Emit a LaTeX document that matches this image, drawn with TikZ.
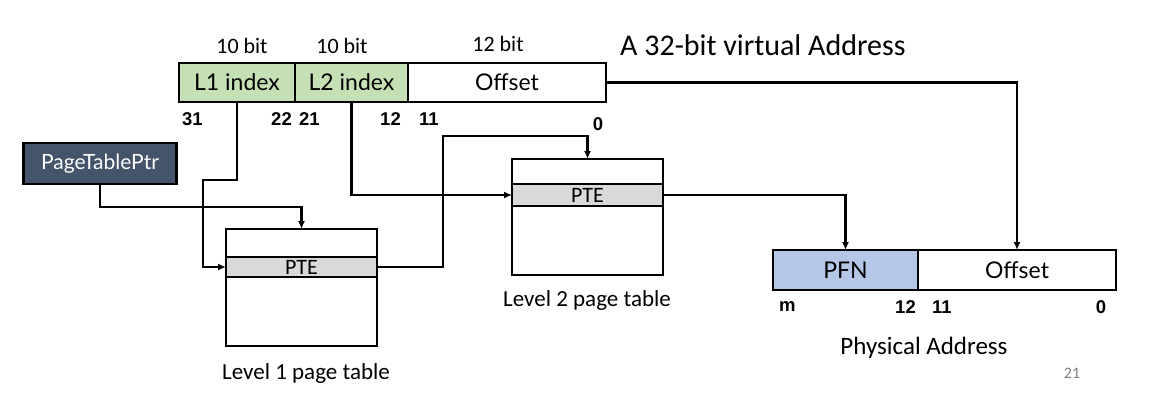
\documentclass[tikz,border=0pt]{standalone}
\usepackage{fontspec}
\setmainfont{Carlito}
\newfontfamily\gill{Lato}
\newfontfamily\bitf{Liberation Sans}
\usetikzlibrary{arrows.meta}
\definecolor{idxgreen}{RGB}{197,224,180}
\definecolor{ptrblue}{RGB}{68,84,106}
\definecolor{pfnblue}{RGB}{180,199,231}
\definecolor{ptegray}{RGB}{217,217,217}
\tikzset{
  box/.style={draw, line width=2.6pt, inner sep=0pt, outer sep=0pt, font=\gill\fontsize{23}{25}\selectfont},
  tbl/.style={draw, line width=2.6pt, inner sep=0pt, outer sep=0pt, minimum width=151pt},
  ptebox/.style={draw, fill=ptegray, line width=2.6pt, inner sep=0pt, outer sep=0pt, minimum width=151pt, font=\fontsize{22}{24}\selectfont},
  conn/.style={line width=2.4pt, -{Latex[length=8pt,width=7pt]}},
  bits/.style={font=\bitf\bfseries\fontsize{18.5}{20}\selectfont, inner sep=0pt},
  lbl/.style={font=\fontsize{23}{25}\selectfont, inner sep=0pt},
}
\begin{document}
\begin{tikzpicture}[x=1pt,y=-1pt]
\useasboundingbox[fill=white] (0,0) rectangle (1158,416);
% virtual address
\node[box, fill=idxgreen, minimum width=116pt, minimum height=39pt] (l1) at (237,82.5) {L1 index};
\node[box, fill=idxgreen, minimum width=113pt, minimum height=39pt] (l2) at (351.5,82.5) {L2 index};
\node[box, fill=white, minimum width=198pt, minimum height=39pt] (voff) at (507,82.5) {Offset};
\node[lbl, font=\fontsize{22}{24}\selectfont] (b1) at (242,46) {10 bit};
\node[lbl, font=\fontsize{22}{24}\selectfont] (b2) at (342,46) {10 bit};
\node[lbl, font=\fontsize{22}{24}\selectfont] (b3) at (498,44) {12 bit};
\node[lbl, font=\fontsize{30}{32}\selectfont, anchor=west] (title) at (620,45) {A 32-bit virtual Address};
\node[bits, anchor=west] (n31) at (182,119) {31};
\node[bits, anchor=east] (n22) at (292,119) {22};
\node[bits, anchor=west] (n21) at (299,119) {21};
\node[bits, anchor=east] (n12) at (401,119) {12};
\node[bits, anchor=west] (n11) at (419,119) {11};
\node[bits] (n0) at (598,124) {0};
% page table pointer
\node[box, fill=ptrblue, text=white, minimum width=153pt, minimum height=41pt, font=\gill\fontsize{21}{23}\selectfont] (ptp) at (100,163.5) {PageTablePtr};
% level 1 table
\node[tbl, minimum height=117pt] (t1) at (301.5,287.5) {};
\node[ptebox, minimum height=20pt] (pte1) at (301.5,267) {PTE};
\node[lbl] (t1l) at (306,373) {Level 1 page table};
% level 2 table
\node[tbl, minimum height=116pt] (t2) at (587.5,217) {};
\node[ptebox, minimum height=22pt] (pte2) at (587.5,195) {PTE};
\node[lbl] (t2l) at (587,300) {Level 2 page table};
% physical address
\node[box, fill=pfnblue, minimum width=145pt, minimum height=40pt] (pfn) at (845.5,270) {PFN};
\node[box, fill=white, minimum width=198pt, minimum height=40pt] (poff) at (1017,270) {Offset};
\node[bits, anchor=west] (pm) at (779,307) {m};
\node[bits, anchor=east] (p12) at (916,307) {12};
\node[bits, anchor=west] (p11) at (932,307) {11};
\node[bits] (p0) at (1101,307) {0};
\node[lbl, font=\fontsize{25}{27}\selectfont] (pal) at (924,348) {Physical Address};
\node[font=\fontsize{16}{18}\selectfont, text=gray, inner sep=0pt] (pg) at (1072,373) {21};
% connectors
\coordinate (c1) at (203,180);
\coordinate (c2) at (301.5,207);
\coordinate (c3) at (443,136);
\draw[conn] (l1.south) |- (c1) |- (pte1.west);
\draw[conn] (ptp.south) |- (c2) -- (t1.north);
\draw[conn] (pte1.east) -| (c3) -| (t2.north);
\draw[conn] (l2.south) |- (pte2.west);
\draw[conn] (pte2.east) -| (pfn.north);
\draw[conn] (voff.east) -| (poff.north);
\end{tikzpicture}
\end{document}
